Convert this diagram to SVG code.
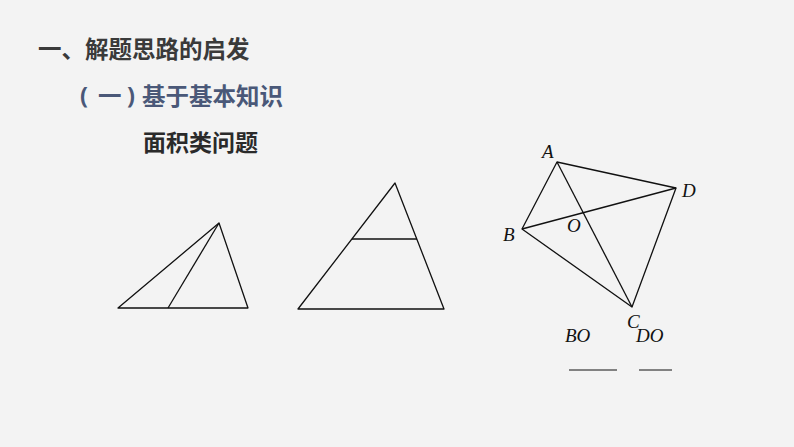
<svg xmlns="http://www.w3.org/2000/svg" width="794" height="447" viewBox="0 0 794 447">
<style>
.t{font-family:"Noto Sans CJK SC","Noto Sans",sans-serif;font-weight:bold}
.g{fill:none;stroke:#111;stroke-width:1.3;stroke-linejoin:round}
.m{font-family:"Liberation Serif",serif;font-style:italic;font-size:19px;fill:#111}
</style>
<rect width="794" height="447" fill="#f3f3f3"/>
<text class="t" x="38" y="58" font-size="23.5" fill="#3a3a3a">一、解题思路的启发</text>
<text class="t" font-size="23.5" fill="#4a5878"><tspan x="80" y="104" font-family="Noto Sans, sans-serif">(</tspan><tspan x="98" y="105">一</tspan><tspan x="127" y="104" font-family="Noto Sans, sans-serif">)</tspan></text>
<text class="t" x="142" y="105" font-size="23.5" fill="#4a5878">基于基本知识</text>
<text class="t" x="143" y="151" font-size="23" fill="#2a2a2a">面积类问题</text>
<g id="tri1"><polygon class="g" points="118,308 219,223 248,308"/><line class="g" x1="219" y1="223" x2="168" y2="308"/></g>
<g id="tri2"><polygon class="g" points="395,183 298,309 444,309"/><line class="g" x1="352" y1="239" x2="417" y2="239"/></g>
<g id="quad"><polygon class="g" points="557,162 676,188 632,307 522,229"/><line class="g" x1="557" y1="162" x2="632" y2="307"/><line class="g" x1="522" y1="229" x2="676" y2="188"/>
<text class="m" x="542" y="158">A</text><text class="m" x="682" y="197">D</text><text class="m" x="503" y="241">B</text><text class="m" x="567" y="232">O</text><text class="m" x="627" y="328">C</text></g>
<g id="labels"><text class="m" x="565" y="342" font-size="20">BO</text><text class="m" x="636" y="342" font-size="20">DO</text>
<line x1="569" y1="370" x2="617" y2="370" stroke="#111" stroke-width="1"/><line x1="639" y1="370" x2="672" y2="370" stroke="#111" stroke-width="1"/></g>
</svg>
